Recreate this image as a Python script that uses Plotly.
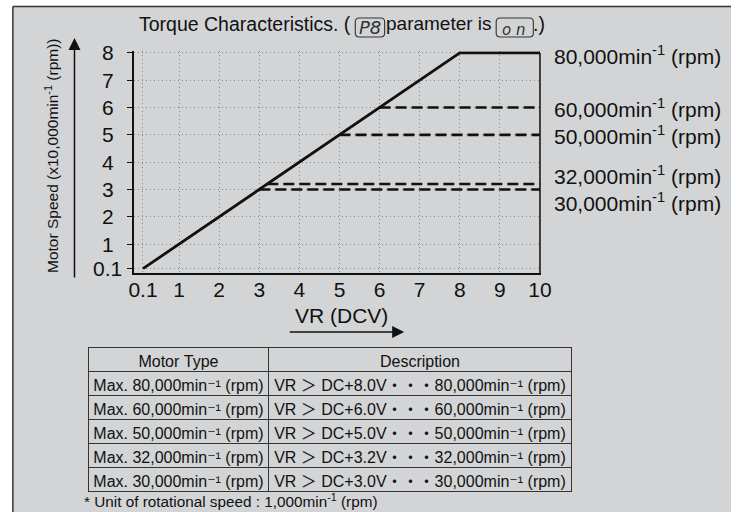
import plotly.graph_objects as go

# ---- data -------------------------------------------------------------
# Knee voltage (DCV) at which each motor type reaches its maximum speed
vr_knee = [8.0, 6.0, 5.0, 3.2, 3.0]
# Maximum speed of each motor type (min-1)
max_speed = [80000, 60000, 50000, 32000, 30000]

# Characteristic curve of the 80,000 min-1 motor (x: VR in DCV, y: x10,000 min-1)
curve_vr = [0.1, 8.0, 10.0]
curve_speed = [0.1, 8.0, 8.0]

x_ticks = [0.1, 1, 2, 3, 4, 5, 6, 7, 8, 9, 10]
x_tick_text = ["0.1", "1", "2", "3", "4", "5", "6", "7", "8", "9", "10"]
y_ticks = [0.1, 1, 2, 3, 4, 5, 6, 7, 8]
y_tick_text = ["0.1", "1", "2", "3", "4", "5", "6", "7", "8"]
# vertical label offsets (px) so close levels do not collide
label_shift = [-2, 0, 0, 9, -13]

# ---- style -------------------------------------------------------------
W, H = 741, 512
BG = "#d3d4d6"
INK = "#111111"
FONT = "Liberation Sans, Arial, DejaVu Sans, Noto Sans CJK JP, sans-serif"
X_RANGE = [-0.12, 10.03]
Y_RANGE = [-0.07, 8.06]
NBSP = "\u00a0"
INV = "\u207b\u00b9"  # superscript -1


def px(x):
    return x / W


def py(y):
    return 1 - y / H


fig = go.Figure()

# main curve
fig.add_trace(go.Scatter(
    x=curve_vr, y=curve_speed, mode="lines",
    line=dict(color=INK, width=2.8), hoverinfo="skip", showlegend=False,
))

# speed limit for the other motor types
for v, s in zip(vr_knee[1:], max_speed[1:]):
    lvl = s / 10000
    fig.add_trace(go.Scatter(
        x=[v, 10.0], y=[lvl, lvl], mode="lines",
        line=dict(color=INK, width=2.6, dash="11px,5px"),
        hoverinfo="skip", showlegend=False,
    ))

annotations = []

# right-hand speed labels
for s, dy in zip(max_speed, label_shift):
    annotations.append(dict(
        x=px(558), xref="paper", xanchor="left",
        y=s / 10000, yref="y", yanchor="middle", yshift=dy,
        text=f"{s:,}min<sup>-1</sup> (rpm)", showarrow=False,
        font=dict(family=FONT, size=21, color=INK),
    ))

# y tick labels, centred in their column
for v, t in zip(y_ticks, y_tick_text):
    annotations.append(dict(
        x=px(104), xref="paper", xanchor="center",
        y=v, yref="y", yanchor="middle",
        text=t, showarrow=False,
        font=dict(family=FONT, size=21, color=INK),
    ))

# y axis title and arrow
annotations.append(dict(
    x=px(47), xref="paper", y=py(155), yref="paper",
    text="Motor Speed (x10,000min<sup>-1</sup> (rpm))", textangle=-90,
    showarrow=False, xanchor="center", yanchor="middle",
    font=dict(family=FONT, size=15.5, color=INK),
))
annotations.append(dict(
    x=px(70), xref="paper", y=py(38), yref="paper",
    ax=0, ay=241, axref="pixel", ayref="pixel",
    text="", showarrow=True, arrowhead=2, arrowsize=1.6, arrowwidth=1.5,
    arrowcolor=INK,
))

# x axis title and arrow
annotations.append(dict(
    x=px(343), xref="paper", y=py(315), yref="paper",
    text="VR (DCV)", showarrow=False, xanchor="center", yanchor="middle",
    font=dict(family=FONT, size=21, color=INK),
))
annotations.append(dict(
    x=px(407), xref="paper", y=py(332), yref="paper",
    ax=-116, ay=0, axref="pixel", ayref="pixel",
    text="", showarrow=True, arrowhead=2, arrowsize=1.6, arrowwidth=1.5,
    arrowcolor=INK,
))

# title, with the two panel-display symbols in rounded boxes
TY = 23.5
title_font = dict(family=FONT, size=19.5, color=INK)
annotations += [
    dict(x=px(134), xref="paper", xanchor="left", y=py(TY), yref="paper",
         yanchor="middle", text="Torque Characteristics. (", showarrow=False,
         font=title_font),
    dict(x=px(372), xref="paper", xanchor="center", y=py(27.5), yref="paper",
         yanchor="middle", text="P8", showarrow=False,
         font=dict(family="DejaVu Sans", size=18, color="#333333", style="italic")),
    dict(x=px(386), xref="paper", xanchor="left", y=py(TY), yref="paper",
         yanchor="middle", text="parameter is", showarrow=False,
         font=dict(family=FONT, size=19, color=INK)),
    dict(x=px(519), xref="paper", xanchor="center", y=py(29.5), yref="paper",
         yanchor="middle", text="o n", showarrow=False,
         font=dict(family="DejaVu Sans", size=15, color="#333333", style="italic")),
    dict(x=px(537), xref="paper", xanchor="left", y=py(TY), yref="paper",
         yanchor="middle", text=".)", showarrow=False,
         font=title_font),
]

# footnote
annotations.append(dict(
    x=px(78), xref="paper", xanchor="left", y=py(500), yref="paper",
    yanchor="middle", text="* Unit of rotational speed : 1,000min<sup>-1</sup> (rpm)",
    showarrow=False, font=dict(family=FONT, size=15.3, color=INK),
))


def rounded_rect(x0, y0, x1, y1, r):
    """Rounded rectangle path in paper coordinates from pixel corners."""
    rx, ry = r / W, r / H
    X0, X1 = px(x0), px(x1)
    Y0, Y1 = py(y0), py(y1)  # Y0 is top
    return (
        f"M {X0 + rx},{Y0} L {X1 - rx},{Y0} Q {X1},{Y0} {X1},{Y0 - ry} "
        f"L {X1},{Y1 + ry} Q {X1},{Y1} {X1 - rx},{Y1} "
        f"L {X0 + rx},{Y1} Q {X0},{Y1} {X0},{Y1 + ry} "
        f"L {X0},{Y0 - ry} Q {X0},{Y0} {X0 + rx},{Y0} Z"
    )


shapes = [
    # panel fill and its top / left border
    dict(type="rect", xref="paper", yref="paper",
         x0=px(7), x1=1, y0=0, y1=py(6.5),
         fillcolor=BG, line=dict(width=0), layer="below"),
    dict(type="line", xref="paper", yref="paper",
         x0=px(7), x1=1, y0=py(6.5), y1=py(6.5),
         line=dict(color="#333333", width=1.5), layer="below"),
    dict(type="line", xref="paper", yref="paper",
         x0=px(7), x1=px(7), y0=0, y1=py(6.5),
         line=dict(color="#333333", width=1.5), layer="below"),
    # display symbol boxes in the title
    dict(type="path", xref="paper", yref="paper",
         path=rounded_rect(357, 18, 387, 37, 4),
         line=dict(color="#333333", width=1.1)),
    dict(type="path", xref="paper", yref="paper",
         path=rounded_rect(501, 18, 539, 37, 4),
         line=dict(color="#333333", width=1.1)),
    # right-hand frame of the plot
    dict(type="line", xref="x", yref="y", x0=10, x1=10, y0=Y_RANGE[0], y1=8,
         line=dict(color=INK, width=1.5)),
]

# description table (non-breaking spaces keep each entry on one line)
col_type = [f"Max. {s:,}min{INV} (rpm)".replace(" ", NBSP) for s in max_speed]
col_desc = [f"VR ＞ DC+{v:.1f}V・・・{s:,}min{INV} (rpm)".replace(" ", NBSP)
            for v, s in zip(vr_knee, max_speed)]
fig.add_trace(go.Table(
    domain=dict(x=[px(84), px(578)], y=[py(505), py(347)]),
    columnwidth=[182, 305],
    header=dict(values=["Motor" + NBSP + "Type", "Description"], fill_color=BG,
                line=dict(color="#333333", width=1), height=24, align="center",
                font=dict(family=FONT, size=16, color=INK)),
    cells=dict(values=[col_type, col_desc], fill_color=BG,
               line=dict(color="#333333", width=1), height=24, align="center",
               font=dict(family=FONT, size=16, color=INK)),
))

fig.update_layout(
    width=W, height=H,
    margin=dict(l=0, r=0, t=0, b=0),
    paper_bgcolor="white", plot_bgcolor="rgba(0,0,0,0)",
    showlegend=False,
    annotations=annotations, shapes=shapes,
    xaxis=dict(
        domain=[px(131), px(547)], range=X_RANGE,
        tickvals=x_ticks, ticktext=x_tick_text, ticks="",
        tickfont=dict(family=FONT, size=21, color=INK),
        ticklabelstandoff=-3,
        showline=True, linecolor=INK, linewidth=1.5,
        showgrid=True, gridcolor="#8a8a8a", gridwidth=1, griddash="1px,3px",
        zeroline=False, fixedrange=True,
    ),
    yaxis=dict(
        domain=[py(273.3), py(51.3)], range=Y_RANGE,
        tickvals=y_ticks, showticklabels=False,
        ticks="outside", ticklen=5, tickwidth=1.2, tickcolor=INK,
        showline=True, linecolor=INK, linewidth=1.5,
        showgrid=True, gridcolor="#8a8a8a", gridwidth=1, griddash="1px,3px",
        zeroline=False, fixedrange=True,
    ),
)

fig.write_html("out.html")
